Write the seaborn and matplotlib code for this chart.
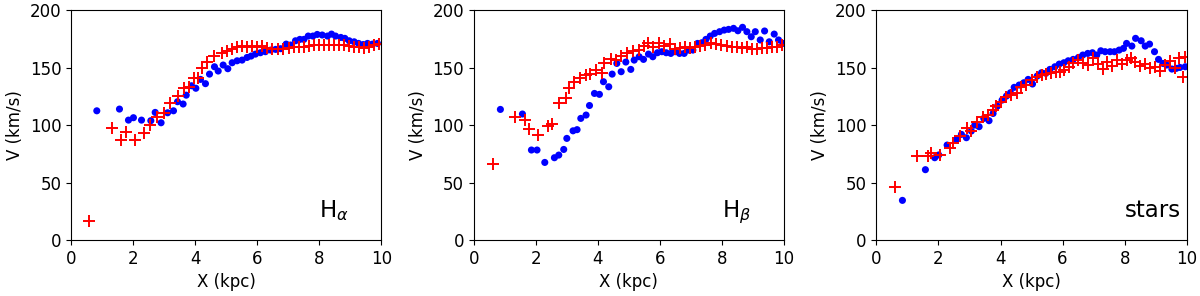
import matplotlib
matplotlib.use("Agg")
import matplotlib.pyplot as plt
import seaborn as sns

# H-alpha panel
ha_blue_x = [0.83, 1.56, 1.85, 2.01, 2.27, 2.57, 2.71, 2.90, 3.11, 3.30, 3.43, 3.61, 3.71, 3.88,
             4.02, 4.17, 4.33, 4.46, 4.62, 4.74, 4.90, 5.05, 5.19, 5.35, 5.51, 5.67, 5.80, 5.94,
             6.10, 6.26, 6.43, 6.59, 6.75, 6.93, 7.07, 7.23, 7.37, 7.50, 7.64, 7.79, 7.93, 8.09,
             8.26, 8.39, 8.52, 8.69, 8.82, 8.96, 9.12, 9.26, 9.41, 9.55, 9.71, 9.87]
ha_blue_v = [112.4, 113.9, 104.3, 106.4, 104.3, 103.8, 111.0, 102.0, 110.7, 112.4, 120.3, 118.3, 126.0, 134.2,
             132.0, 139.7, 136.0, 144.3, 150.7, 147.0, 152.2, 149.0, 154.2, 155.9, 156.5, 158.8, 160.0, 161.7,
             162.9, 163.8, 165.2, 165.8, 166.4, 170.4, 169.6, 173.3, 174.5, 174.5, 177.4, 177.4, 178.8, 178.3,
             177.4, 179.1, 177.4, 176.2, 175.4, 173.3, 172.4, 171.0, 170.0, 171.0, 170.4, 171.0]
ha_red_x = [0.59, 1.31, 1.61, 1.77, 2.05, 2.36, 2.53, 2.77, 3.00, 3.20, 3.43, 3.63, 3.79, 3.95,
            4.08, 4.22, 4.38, 4.62, 4.87, 5.03, 5.19, 5.33, 5.51, 5.67, 5.83, 6.00, 6.16, 6.32,
            6.48, 6.66, 6.84, 7.02, 7.18, 7.34, 7.50, 7.66, 7.83, 7.99, 8.15, 8.31, 8.47, 8.63,
            8.79, 8.96, 9.12, 9.28, 9.44, 9.60, 9.76, 9.92]
ha_red_v = [16.5, 97.1, 87.0, 93.6, 87.0, 93.3, 100.0, 106.7, 110.7, 118.8, 125.2, 131.9, 133.3, 140.6,
            141.0, 149.3, 155.0, 160.0, 162.9, 164.6, 165.8, 167.5, 168.7, 168.1, 168.7, 168.1, 168.7, 166.7,
            165.8, 165.8, 165.8, 166.7, 167.5, 167.5, 168.1, 168.7, 169.6, 169.6, 169.6, 170.0, 170.0, 169.6,
            169.6, 169.0, 168.1, 168.1, 167.2, 168.1, 169.6, 170.4]

# H-beta panel
hb_blue_x = [0.86, 1.57, 1.86, 2.04, 2.29, 2.60, 2.74, 2.90, 3.00, 3.20, 3.33, 3.45, 3.62, 3.73,
             3.89, 4.05, 4.18, 4.35, 4.46, 4.61, 4.75, 4.90, 5.06, 5.17, 5.33, 5.47, 5.63, 5.77,
             5.92, 6.06, 6.20, 6.35, 6.49, 6.63, 6.78, 6.92, 7.06, 7.21, 7.35, 7.48, 7.62, 7.76,
             7.92, 8.07, 8.21, 8.37, 8.51, 8.66, 8.80, 8.94, 9.07, 9.23, 9.37, 9.52, 9.68, 9.82, 9.96]
hb_blue_v = [113.6, 109.6, 78.3, 78.3, 67.5, 71.6, 73.9, 78.8, 88.4, 95.0, 96.0, 105.8, 108.7, 117.0,
             127.5, 126.7, 137.7, 133.3, 144.3, 153.6, 146.4, 154.8, 148.4, 156.5, 159.4, 157.1, 161.7, 159.4,
             162.9, 163.8, 162.9, 162.3, 163.8, 162.3, 162.3, 165.2, 165.2, 171.0, 171.6, 174.5, 177.4, 179.7,
             181.2, 182.6, 183.2, 184.1, 182.0, 185.0, 181.2, 176.8, 181.2, 174.0, 181.8, 172.4, 179.1, 174.0, 171.0]
hb_red_x = [0.61, 1.32, 1.66, 1.79, 2.06, 2.38, 2.52, 2.76, 2.98, 3.06, 3.22, 3.43, 3.62, 3.76,
            3.94, 4.13, 4.21, 4.42, 4.58, 4.75, 4.94, 5.13, 5.31, 5.47, 5.60, 5.79, 5.98, 6.14,
            6.31, 6.49, 6.65, 6.81, 6.97, 7.14, 7.30, 7.46, 7.64, 7.81, 7.97, 8.15, 8.32, 8.48,
            8.64, 8.80, 8.96, 9.12, 9.28, 9.44, 9.60, 9.76, 9.92]
hb_red_v = [65.8, 107.2, 104.3, 96.5, 91.3, 99.1, 100.9, 118.8, 123.2, 131.9, 137.7, 140.6, 143.5, 144.3,
            147.8, 145.5, 153.6, 157.1, 156.5, 160.0, 162.3, 164.6, 165.2, 168.7, 171.0, 168.1, 171.0, 168.7,
            170.4, 165.8, 166.7, 167.5, 167.2, 168.1, 169.0, 169.6, 171.0, 170.4, 169.6, 168.7, 168.1, 168.1,
            167.2, 167.5, 165.8, 165.8, 166.7, 167.2, 168.1, 168.1, 169.6]

# stars panel
st_blue_x = [0.84, 1.58, 1.88, 2.01, 2.28, 2.58, 2.74, 2.90, 3.06, 3.17, 3.31, 3.46, 3.63, 3.76,
             3.90, 4.05, 4.19, 4.32, 4.44, 4.60, 4.75, 4.89, 5.03, 5.18, 5.32, 5.46, 5.59, 5.75,
             5.89, 6.04, 6.18, 6.34, 6.51, 6.65, 6.81, 6.96, 7.10, 7.23, 7.37, 7.53, 7.67, 7.82,
             7.96, 8.06, 8.23, 8.35, 8.53, 8.66, 8.80, 8.96, 9.09, 9.23, 9.35, 9.52, 9.66, 9.78, 9.95]
st_blue_v = [34.5, 61.2, 71.6, 74.0, 82.6, 87.5, 91.9, 89.0, 94.8, 100.0, 98.6, 105.8, 103.8, 110.1,
             116.5, 121.7, 125.2, 128.1, 132.8, 134.8, 136.8, 139.7, 135.7, 142.6, 145.5, 145.0, 148.4, 150.7,
             153.0, 154.2, 155.9, 157.1, 158.8, 160.9, 162.3, 162.9, 160.9, 164.6, 163.8, 163.8, 163.8, 165.2,
             166.7, 171.0, 168.7, 175.4, 173.3, 168.7, 170.4, 163.8, 157.1, 153.6, 152.2, 148.7, 149.3, 150.1, 150.7]
st_red_x = [0.61, 1.31, 1.67, 1.77, 2.04, 2.37, 2.47, 2.69, 2.92, 3.06, 3.23, 3.42, 3.60, 3.76,
            3.87, 4.03, 4.17, 4.35, 4.52, 4.66, 4.82, 5.00, 5.16, 5.32, 5.46, 5.61, 5.78, 5.91,
            6.04, 6.22, 6.34, 6.51, 6.67, 6.83, 6.99, 7.15, 7.29, 7.42, 7.58, 7.74, 7.90, 8.06,
            8.19, 8.33, 8.49, 8.66, 8.82, 8.98, 9.14, 9.30, 9.46, 9.62, 9.76, 9.87, 9.95]
st_red_v = [46.4, 73.0, 73.0, 75.4, 73.9, 79.7, 84.0, 90.4, 97.1, 95.0, 102.9, 106.7, 108.7, 113.0,
            116.5, 120.3, 124.0, 126.0, 127.5, 132.8, 134.8, 139.1, 141.4, 143.5, 144.3, 145.5, 146.4, 146.4,
            147.8, 150.7, 154.2, 156.5, 154.2, 152.2, 158.0, 153.0, 149.0, 155.0, 151.6, 156.5, 153.0, 156.5,
            158.0, 155.0, 151.6, 153.0, 149.3, 150.7, 147.2, 152.2, 155.9, 149.3, 158.0, 141.4, 158.8]

labels = [r"H$_\alpha$", r"H$_\beta$", "stars"]

sns.set_style("ticks")
plt.rcParams["font.family"] = ["DejaVu Sans"]
plt.rcParams["text.color"] = "black"
plt.rcParams["axes.labelcolor"] = "black"
plt.rcParams["xtick.color"] = "black"
plt.rcParams["ytick.color"] = "black"
plt.rcParams["axes.edgecolor"] = "black"

fig, axes = plt.subplots(1, 3, figsize=(12, 2.96), dpi=100)
fig.subplots_adjust(left=0.0592, right=0.989, bottom=0.189, top=0.966, wspace=0.297)

panels = [(ha_blue_x, ha_blue_v, ha_red_x, ha_red_v),
          (hb_blue_x, hb_blue_v, hb_red_x, hb_red_v),
          (st_blue_x, st_blue_v, st_red_x, st_red_v)]

for ax, (bx, bv, rx, rv), lab in zip(axes, panels, labels):
    sns.scatterplot(x=bx, y=bv, ax=ax, color="blue", s=26, edgecolor="none")
    sns.scatterplot(x=rx, y=rv, ax=ax, color="red", marker="+", s=70, linewidth=1.4)
    ax.set_xlim(0, 10)
    ax.set_ylim(0, 200)
    ax.set_xticks([0, 2, 4, 6, 8, 10])
    ax.set_yticks([0, 50, 100, 150, 200])
    ax.tick_params(labelsize=12)
    ax.set_xlabel("X (kpc)", fontsize=12)
    ax.set_ylabel("V (km/s)", fontsize=12)
    ax.text(8.0, 20, lab, fontsize=16.5, va="baseline", ha="left")

plt.savefig("out.png", dpi=100)
